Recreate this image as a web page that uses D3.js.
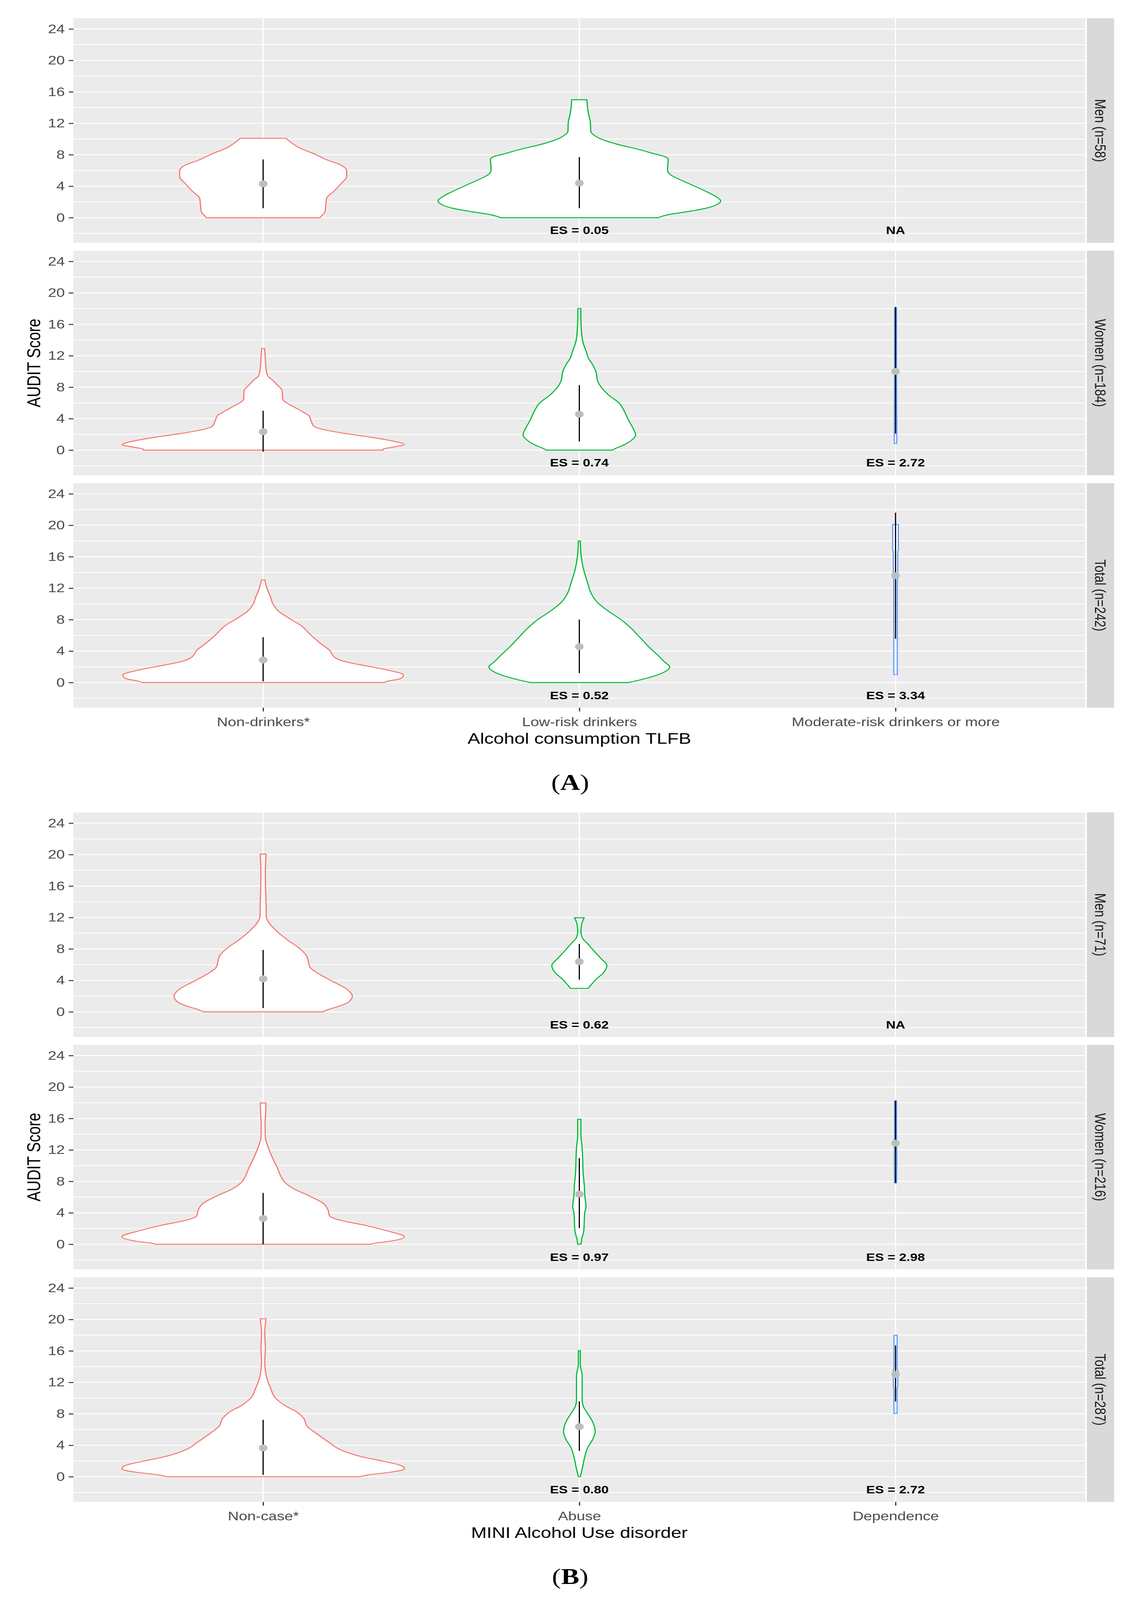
<!DOCTYPE html>
<html>
<head>
<meta charset="utf-8">
<script src="https://cdn.jsdelivr.net/npm/d3@7"></script>
<style>
html, body { margin: 0; padding: 0; background: #fff; overflow: hidden; width: 100%; height: 100%; }
#chart { display: block; width: 100vw; height: 100vh; }
text { font-family: "Liberation Sans", Arial, sans-serif; }
</style>
</head>
<body>
<svg id="chart" viewBox="0 0 2932 5087" preserveAspectRatio="none"></svg>
<script>
// ---- data ----
var categoriesA = ["Non-drinkers*", "Low-risk drinkers", "Moderate-risk drinkers or more"];
var categoriesB = ["Non-case*", "Abuse", "Dependence"];
var stripsA = ["Men (n=58)", "Women (n=184)", "Total (n=242)"];
var stripsB = ["Men (n=71)", "Women (n=216)", "Total (n=287)"];
var yTicks = [0, 4, 8, 12, 16, 20, 24];
var yMinor = [-2, 2, 6, 10, 14, 18, 22];

// effect sizes for categories 2 and 3, per panel
var esA = [["ES = 0.05", "NA"], ["ES = 0.74", "ES = 2.72"], ["ES = 0.52", "ES = 3.34"]];
var esB = [["ES = 0.62", "NA"], ["ES = 0.97", "ES = 2.98"], ["ES = 0.80", "ES = 2.72"]];

// violin outlines: [AUDIT score, half width (fraction of category step)]
var violinsAMen = [
  [[0,.180],[0.25,.185],[0.8,.196],[2.0,.199],[2.5,.201],[3.4,.225],[4.4,.248],[5.2,.264],[6.0,.264],[6.7,.245],[7.3,.205],[8.1,.162],[8.8,.119],[9.7,.084],[10.1,.072]],
  [[0,.249],[0.38,.281],[0.78,.344],[1.19,.400],[1.6,.432],[2.14,.447],[2.68,.432],[3.35,.400],[4.16,.356],[4.84,.318],[5.5,.287],[6.05,.279],[7.4,.281],[7.7,.274],[8.2,.230],[8.7,.186],[9.3,.123],[9.84,.079],[10.4,.050],[11.0,.036],[12.1,.035],[13.0,.030],[14.0,.026],[15.0,.024]],
  null
];
var violinsAWomen = [
  [[0,.379],[0.11,.379],[0.34,.405],[0.69,.446],[1.26,.396],[1.72,.327],[2.18,.249],[2.64,.188],[2.99,.162],[3.67,.152],[4.36,.145],[4.82,.127],[5.5,.097],[6.09,.071],[6.43,.062],[7.58,.060],[8.27,.045],[8.96,.028],[9.4,.015],[10.1,.010],[10.8,.008],[12.17,.006],[12.9,.0045]],
  [[0,.105],[0.18,.113],[0.64,.140],[1.29,.166],[1.93,.178],[2.76,.170],[3.68,.157],[4.96,.142],[5.97,.126],[7.0,.093],[8.0,.069],[8.9,.057],[9.9,.053],[11.0,.040],[11.6,.030],[12.5,.022],[13.8,.011],[14.6,.0076],[17.1,.0047],[18.0,.0047]],
  [[0.84,.004],[2.1,.004],[10,.003],[18.1,.003]]
];
var violinsATotal = [
  [[0,.383],[0.15,.392],[0.51,.435],[0.97,.444],[1.53,.400],[2.08,.331],[2.63,.262],[3.18,.227],[4.1,.210],[5.02,.180],[6.12,.149],[7.23,.120],[8.15,.083],[9.07,.049],[10.0,.031],[10.9,.023],[12.0,.012],[13.06,.005]],
  [[0,.156],[0.24,.182],[0.79,.234],[1.34,.269],[1.99,.286],[2.63,.269],[3.55,.246],[4.65,.217],[5.76,.191],[6.86,.165],[7.96,.133],[9.07,.092],[10.2,.057],[11.3,.038],[12.7,.026],[14.6,.012],[16.4,.005],[18.0,.003]],
  [[1.0,.0055],[13.0,.0055],[13.2,.007],[16.7,.007],[16.8,.009],[20.1,.009]]
];
var violinsBMen = [
  [[0,.189],[0.29,.206],[0.67,.236],[1.24,.270],[2.0,.282],[2.95,.262],[3.9,.218],[4.86,.175],[5.62,.149],[7.14,.137],[8.1,.114],[9.05,.080],[10.2,.045],[11.3,.019],[12.1,.010],[14.0,.009],[15.1,.008],[17.8,.007],[20.06,.009]],
  [[2.99,.028],[3.33,.035],[4.1,.052],[5.05,.078],[5.9,.087],[6.76,.069],[7.71,.047],[8.67,.026],[9.43,.009],[10.2,.005],[11.1,.007],[11.96,.015]],
  null
];
var violinsBWomen = [
  [[0,.340],[0.1,.348],[0.38,.400],[0.95,.447],[1.71,.392],[2.48,.314],[3.05,.244],[3.62,.210],[4.38,.205],[5.14,.192],[6.1,.149],[7.05,.097],[7.9,.068],[8.57,.057],[9.71,.045],[10.86,.031],[12.0,.019],[12.76,.012],[13.5,.007],[15.4,.006],[16.0,.007],[17.96,.009]],
  [[0,.005],[0.57,.007],[1.71,.014],[4.0,.017],[4.76,.021],[6.29,.017],[7.24,.016],[9.14,.012],[12.2,.009],[13.9,.005],[15.9,.005]],
  [[7.8,.003],[10.5,.004],[14,.003],[18.25,.003]]
];
var violinsBTotal = [
  [[0,.305],[0.23,.331],[0.61,.409],[0.99,.447],[1.37,.439],[1.95,.383],[2.52,.314],[3.28,.253],[4.43,.206],[5.57,.166],[6.34,.141],[7.48,.127],[8.24,.106],[9.0,.071],[9.96,.040],[11.3,.023],[12.25,.014],[12.8,.010],[14.7,.005],[16.3,.007],[18.2,.005],[20.08,.009]],
  [[0,.003],[0.99,.009],[2.52,.017],[3.66,.026],[4.8,.043],[5.76,.050],[6.9,.043],[8.05,.026],[9.0,.012],[9.77,.009],[12.8,.009],[14.35,.003],[16.03,.003]],
  [[8.05,.005],[11.3,.005],[11.4,.007],[13.6,.007],[13.7,.005],[17.98,.005]]
];

// summary range and mean: [low, high, mean]
var summaryAMen   = [[1.2, 7.4, 4.3], [1.2, 7.7, 4.4], null];
var summaryAWomen = [[-0.2, 5.0, 2.34], [1.1, 8.27, 4.56], [2.1, 18.2, 10.0]];
var summaryATotal = [[0.15, 5.76, 2.87], [1.2, 8.0, 4.56], [5.57, 21.6, 13.6]];
var summaryBMen   = [[0.48, 7.87, 4.19], [4.1, 8.63, 6.38], null];
var summaryBWomen = [[0, 6.53, 3.28], [2.06, 10.95, 6.38], [7.8, 18.25, 12.86]];
var summaryBTotal = [[0.23, 7.23, 3.66], [3.28, 9.58, 6.37], [9.58, 16.7, 13.0]];

var colors = ["#F8766D", "#00BA38", "#619CFF"];

// ---- layout (drawn in a 2932 x 5087 user space, stretched to the window) ----
var svg = d3.select("#chart");
var left = 188, right = 2779,
	panelH = 714, panelStep = 739,
	stripX = 2783, stripW = 70;

var x = d3.scalePoint()
	.domain([0, 1, 2])
	.range([left, right])
	.padding(0.6);
var step = x.step();

function drawFigure(top, cats, strips, violins, summaries, es, xTitle, tag) {
	var fig = svg.append("g").attr("class", "figure");

	violins.forEach(function(panelViolins, p) {
		var pTop = top + p * panelStep;
		var y = d3.scaleLinear()
			.domain([-3.2, 25.36])
			.range([pTop + panelH, pTop]);
		var g = fig.append("g").attr("class", "panel");

		g.append("rect")
			.attr("x", left).attr("y", pTop)
			.attr("width", right - left).attr("height", panelH)
			.attr("fill", "#EBEBEB");

		g.selectAll(".minor").data(yMinor).enter().append("line")
			.attr("x1", left).attr("x2", right)
			.attr("y1", function(d) { return y(d); })
			.attr("y2", function(d) { return y(d); })
			.attr("stroke", "#fff").attr("stroke-width", 2.5);
		g.selectAll(".major").data(yTicks).enter().append("line")
			.attr("x1", left).attr("x2", right)
			.attr("y1", function(d) { return y(d); })
			.attr("y2", function(d) { return y(d); })
			.attr("stroke", "#fff").attr("stroke-width", 3);
		g.selectAll(".vgrid").data(x.domain()).enter().append("line")
			.attr("x1", function(d) { return x(d); })
			.attr("x2", function(d) { return x(d); })
			.attr("y1", pTop).attr("y2", pTop + panelH)
			.attr("stroke", "#fff").attr("stroke-width", 3);

		// y axis
		var ya = g.append("g")
			.attr("transform", "translate(" + left + ",0)")
			.call(d3.axisLeft(y).tickValues(yTicks).tickSize(12).tickPadding(10));
		ya.select(".domain").remove();
		ya.selectAll("line").attr("stroke", "#333").attr("stroke-width", 3);
		ya.selectAll("text").attr("fill", "#4D4D4D").style("font-size", "39px")
			.style("font-family", "'Liberation Sans', Arial, sans-serif");

		// violins
		panelViolins.forEach(function(v, i) {
			if (!v) return;
			var cx = x(i);
			var area = d3.area()
				.curve(d3.curveMonotoneY)
				.y(function(d) { return y(d[0]); })
				.x0(function(d) { return cx - d[1] * step; })
				.x1(function(d) { return cx + d[1] * step; });
			g.append("path")
				.attr("d", area(v))
				.attr("fill", "#fff")
				.attr("stroke", colors[i])
				.attr("stroke-width", 3);
		});

		summaries[p].forEach(function(s, i) {
			if (!s) return;
			g.append("line")
				.attr("x1", x(i)).attr("x2", x(i))
				.attr("y1", y(s[0])).attr("y2", y(s[1]))
				.attr("stroke", "#000").attr("stroke-width", 3);
			g.append("circle")
				.attr("cx", x(i)).attr("cy", y(s[2]))
				.attr("r", 11)
				.attr("fill", "#BEBEBE");
		});

		// effect size labels
		g.selectAll(".es").data(es[p]).enter().append("text")
			.attr("x", function(d, i) { return x(i + 1); })
			.attr("y", y(-2.1))
			.attr("text-anchor", "middle")
			.attr("font-weight", "bold")
			.style("font-size", "34px")
			.text(function(d) { return d; });

		// strip
		g.append("rect")
			.attr("x", stripX).attr("y", pTop)
			.attr("width", stripW).attr("height", panelH)
			.attr("fill", "#D9D9D9");
		g.append("text")
			.attr("transform", "translate(" + (stripX + stripW / 2) + "," + (pTop + panelH / 2) + ") rotate(90)")
			.attr("text-anchor", "middle")
			.attr("dy", "0.35em")
			.attr("fill", "#1A1A1A")
			.style("font-size", "39px")
			.text(strips[p]);

		// x axis on bottom panel only
		if (p === violins.length - 1) {
			var xa = g.append("g")
				.attr("transform", "translate(0," + (pTop + panelH) + ")")
				.call(d3.axisBottom(x).tickSize(12).tickPadding(19)
					.tickFormat(function(d) { return cats[d]; }));
			xa.select(".domain").remove();
			xa.selectAll("line").attr("stroke", "#333").attr("stroke-width", 3);
			xa.selectAll("text").attr("fill", "#4D4D4D").style("font-size", "39px")
				.style("font-family", "'Liberation Sans', Arial, sans-serif");
		}
	});

	var bottom = top + (violins.length - 1) * panelStep + panelH;

	fig.append("text")
		.attr("x", (left + right) / 2)
		.attr("y", bottom + 115)
		.attr("text-anchor", "middle")
		.style("font-size", "48px")
		.text(xTitle);

	fig.append("text")
		.attr("transform", "translate(103," + ((top + bottom) / 2) + ") rotate(-90)")
		.attr("text-anchor", "middle")
		.style("font-size", "48px")
		.text("AUDIT Score");

	var t = fig.append("text")
		.attr("x", 1460)
		.attr("y", bottom + 261)
		.attr("text-anchor", "middle")
		.style("font-family", "'Liberation Serif', 'DejaVu Serif', serif")
		.style("font-size", "70px");
	t.append("tspan").text("(");
	t.append("tspan").attr("font-weight", "bold").text(tag);
	t.append("tspan").text(")");
}

drawFigure(58, categoriesA, stripsA,
	[violinsAMen, violinsAWomen, violinsATotal],
	[summaryAMen, summaryAWomen, summaryATotal],
	esA, "Alcohol consumption TLFB", "A");

drawFigure(2583, categoriesB, stripsB,
	[violinsBMen, violinsBWomen, violinsBTotal],
	[summaryBMen, summaryBWomen, summaryBTotal],
	esB, "MINI Alcohol Use disorder", "B");
</script>
</body>
</html>
